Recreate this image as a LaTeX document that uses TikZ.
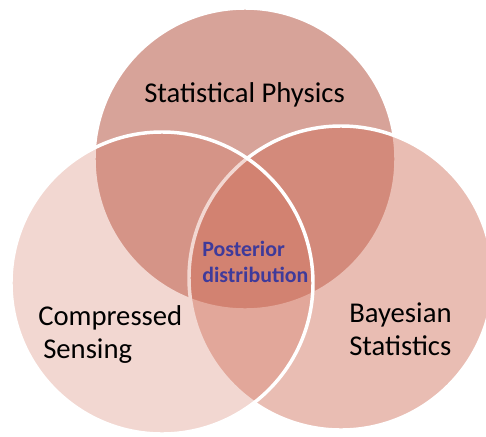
\documentclass[tikz,border=0pt]{standalone}
\usepackage{fontspec}
\setmainfont{Carlito}
\definecolor{topfill}{RGB}{215,163,153}
\definecolor{basefill}{RGB}{208,109,87}
\definecolor{postblue}{RGB}{63,58,154}
\begin{document}
\begin{tikzpicture}[x=0.75pt,y=-0.75pt,
  ring/.style={draw=white,line width=2.6pt},
  lbl/.style={font=\fontsize{21.5}{25}\selectfont,text=black,anchor=base west,inner sep=0pt},
  post/.style={font=\bfseries\fontsize{16.4}{19}\selectfont,text=postblue,anchor=base west,inner sep=0pt}]
\useasboundingbox (0,0) rectangle (486,436);
\fill[white] (0,0) rectangle (486,436);
% top circle
\coordinate (ct) at (245,159);
\coordinate (cr) at (341,278);
\coordinate (cl) at (162,283);
\fill[topfill] (ct) circle[radius=151];
\draw[ring] (ct) circle[radius=151];
% right circle
\fill[basefill,fill opacity=0.45] (cr) circle[radius=152];
\draw[ring] (cr) circle[radius=152];
% left circle
\fill[basefill,fill opacity=0.27] (cl) circle[radius=151];
\draw[ring] (cl) circle[radius=151];
% labels
\node[lbl] (sp) at (144,102) {Statistical Physics};
\node[lbl] (cs1) at (38,325) {Compressed};
\node[lbl] (cs2) at (43,358) {Sensing};
\node[lbl] (bs1) at (349,322) {Bayesian};
\node[lbl] (bs2) at (349,355) {Statistics};
\node[post] (p1) at (202,256) {Posterior};
\node[post] (p2) at (202,282) {distribution};
\end{tikzpicture}
\end{document}
